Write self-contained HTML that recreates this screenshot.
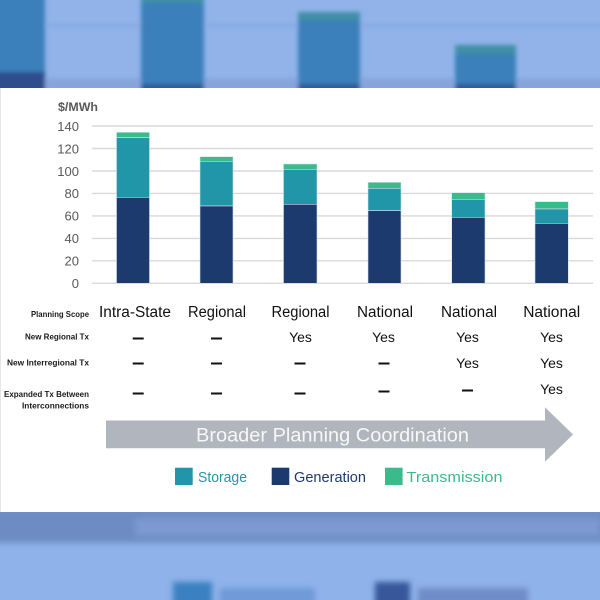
<!DOCTYPE html>
<html><head><meta charset="utf-8">
<style>
html,body{margin:0;padding:0;width:600px;height:600px;overflow:hidden;background:#fff}
svg{display:block}
text{font-family:"Liberation Sans",sans-serif}
</style></head>
<body>
<svg width="600" height="600" viewBox="0 0 600 600" xmlns="http://www.w3.org/2000/svg">
<defs>
<filter id="b1" x="-20%" y="-20%" width="140%" height="140%"><feGaussianBlur stdDeviation="2.2"/></filter>
<filter id="b2" x="-20%" y="-20%" width="140%" height="140%"><feGaussianBlur stdDeviation="3"/></filter>
<clipPath id="ctop"><rect x="0" y="0" width="600" height="88"/></clipPath>
<clipPath id="cbot"><rect x="0" y="512" width="600" height="88"/></clipPath>
</defs>

<!-- top blurred background -->
<g clip-path="url(#ctop)">
<rect x="0" y="0" width="600" height="88" fill="#91b3ea"/>
<g filter="url(#b1)">
<rect x="-10" y="24" width="620" height="3" fill="#87a9e2"/>
<rect x="-10" y="78" width="620" height="14" fill="#86a5dc"/>
<rect x="-10" y="-10" width="55" height="110" fill="#3b80ba"/>
<rect x="-10" y="72" width="55" height="30" fill="#2f4e8c"/>
<rect x="141" y="-10" width="63" height="110" fill="#3b80ba"/>
<rect x="141" y="-10" width="63" height="13" fill="#3f8fa6"/>
<rect x="141" y="84" width="63" height="16" fill="#305a98"/>
<rect x="298" y="12" width="62" height="90" fill="#3b80ba"/>
<rect x="298" y="12" width="62" height="8" fill="#3f8fa6"/>
<rect x="298" y="84" width="62" height="16" fill="#305a98"/>
<rect x="455" y="45" width="61" height="60" fill="#3b80ba"/>
<rect x="455" y="45" width="61" height="9" fill="#3f8fa6"/>
<rect x="455" y="84" width="61" height="16" fill="#305a98"/>
</g>
</g>

<!-- bottom blurred background -->
<g clip-path="url(#cbot)">
<rect x="0" y="512" width="600" height="88" fill="#8fb2ea"/>
<g filter="url(#b2)">
<rect x="-10" y="508" width="620" height="35" fill="#6d8cc4"/>
<rect x="135" y="518" width="465" height="18" fill="#7b99d1"/>
<rect x="173" y="582" width="39" height="30" fill="#3a80c0"/>
<rect x="220" y="588" width="95" height="20" fill="#6f9ad8"/>
<rect x="375" y="582" width="35" height="30" fill="#38569a"/>
<rect x="418" y="588" width="110" height="20" fill="#6f8cc8"/>
</g>
</g>

<!-- white panel -->
<rect x="0" y="88" width="600" height="424" fill="#ffffff"/>
<rect x="0" y="88" width="1" height="424" fill="#e6e6e6"/>

<!-- axis title -->
<text x="58" y="111" font-size="12" font-weight="bold" fill="#595959" textLength="40" lengthAdjust="spacingAndGlyphs">$/MWh</text>

<!-- gridlines -->
<g stroke="#d9d9d9" stroke-width="1.4">
<line x1="92" y1="126" x2="593" y2="126"/>
<line x1="92" y1="148.5" x2="593" y2="148.5"/>
<line x1="92" y1="171" x2="593" y2="171"/>
<line x1="92" y1="193.4" x2="593" y2="193.4"/>
<line x1="92" y1="215.9" x2="593" y2="215.9"/>
<line x1="92" y1="238.4" x2="593" y2="238.4"/>
<line x1="92" y1="260.8" x2="593" y2="260.8"/>
<line x1="92" y1="283.3" x2="593" y2="283.3"/>
</g>

<!-- tick labels -->
<g font-size="13" fill="#595959" text-anchor="end">
<text x="79" y="130.8">140</text>
<text x="79" y="153.3">120</text>
<text x="79" y="175.8">100</text>
<text x="79" y="198.2">80</text>
<text x="79" y="220.7">60</text>
<text x="79" y="243.2">40</text>
<text x="79" y="265.6">20</text>
<text x="79" y="288.1">0</text>
</g>

<!-- bars -->
<g stroke="#cfe3ea" stroke-width="0.6">
<rect x="116.5" y="132.3" width="33" height="5.4" fill="#3bba8c"/>
<rect x="116.5" y="137.7" width="33" height="59.6" fill="#2196a8"/>
<rect x="116.5" y="197.3" width="33" height="86" fill="#1c3a6e"/>

<rect x="200" y="156.7" width="33" height="4.6" fill="#3bba8c"/>
<rect x="200" y="161.3" width="33" height="44.7" fill="#2196a8"/>
<rect x="200" y="206" width="33" height="77.3" fill="#1c3a6e"/>

<rect x="283.5" y="164" width="33.5" height="5.3" fill="#3bba8c"/>
<rect x="283.5" y="169.3" width="33.5" height="35" fill="#2196a8"/>
<rect x="283.5" y="204.3" width="33.5" height="79" fill="#1c3a6e"/>

<rect x="368" y="182.3" width="33" height="6" fill="#3bba8c"/>
<rect x="368" y="188.3" width="33" height="22.4" fill="#2196a8"/>
<rect x="368" y="210.7" width="33" height="72.6" fill="#1c3a6e"/>

<rect x="451.7" y="192.7" width="33.3" height="6.6" fill="#3bba8c"/>
<rect x="451.7" y="199.3" width="33.3" height="18" fill="#2196a8"/>
<rect x="451.7" y="217.3" width="33.3" height="66" fill="#1c3a6e"/>

<rect x="535" y="201.7" width="33.3" height="7.3" fill="#3bba8c"/>
<rect x="535" y="209" width="33.3" height="14.3" fill="#2196a8"/>
<rect x="535" y="223.3" width="33.3" height="60" fill="#1c3a6e"/>
</g>

<!-- table row labels -->
<g font-size="8.5" font-weight="bold" fill="#1a1a1a" text-anchor="end">
<text x="89" y="317" textLength="58" lengthAdjust="spacingAndGlyphs">Planning Scope</text>
<text x="89" y="339.7" textLength="64" lengthAdjust="spacingAndGlyphs">New Regional Tx</text>
<text x="89" y="365.7" textLength="82" lengthAdjust="spacingAndGlyphs">New Interregional Tx</text>
<text x="89" y="397" textLength="85" lengthAdjust="spacingAndGlyphs">Expanded Tx Between</text>
<text x="89" y="408.7" textLength="67" lengthAdjust="spacingAndGlyphs">Interconnections</text>
</g>

<!-- category labels -->
<g font-size="15.5" fill="#111" text-anchor="middle">
<text x="135" y="317" textLength="72" lengthAdjust="spacingAndGlyphs">Intra-State</text>
<text x="217" y="317" textLength="58" lengthAdjust="spacingAndGlyphs">Regional</text>
<text x="300.5" y="317" textLength="58" lengthAdjust="spacingAndGlyphs">Regional</text>
<text x="385" y="317" textLength="56" lengthAdjust="spacingAndGlyphs">National</text>
<text x="469" y="317" textLength="56" lengthAdjust="spacingAndGlyphs">National</text>
<text x="551.7" y="317" textLength="57" lengthAdjust="spacingAndGlyphs">National</text>
</g>

<!-- dashes -->
<g fill="#111">
<rect x="132.7" y="337.5" width="11" height="2"/>
<rect x="211" y="337.5" width="11" height="2"/>
<rect x="132.7" y="362.5" width="11" height="2"/>
<rect x="211" y="362.5" width="11" height="2"/>
<rect x="294.5" y="362.5" width="11" height="2"/>
<rect x="378.5" y="362.5" width="11" height="2"/>
<rect x="132.7" y="392.5" width="11" height="2"/>
<rect x="211" y="392.5" width="11" height="2"/>
<rect x="294.5" y="392.5" width="11" height="2"/>
<rect x="378.5" y="390.5" width="11" height="2"/>
<rect x="462" y="389.5" width="11" height="2"/>
</g>

<!-- Yes values -->
<g font-size="14" fill="#111" text-anchor="middle">
<text x="300.5" y="342">Yes</text>
<text x="383.5" y="342">Yes</text>
<text x="467.5" y="342">Yes</text>
<text x="551.5" y="342">Yes</text>
<text x="467.5" y="368">Yes</text>
<text x="551.5" y="368">Yes</text>
<text x="551.5" y="394">Yes</text>
</g>

<!-- arrow -->
<polygon points="106,420.5 545,420.5 545,407.3 573,434.5 545,461.7 545,448.3 106,448.3" fill="#b1b5bd"/>
<text x="332.5" y="441.5" font-size="19" fill="#f7f7f7" text-anchor="middle" textLength="273" lengthAdjust="spacingAndGlyphs">Broader Planning Coordination</text>

<!-- legend -->
<rect x="175" y="467.7" width="17.7" height="17.3" fill="#2196a8"/>
<text x="198" y="482" font-size="15" fill="#2196a8" textLength="49" lengthAdjust="spacingAndGlyphs">Storage</text>
<rect x="271.7" y="467.7" width="17.6" height="17.3" fill="#1c3a6e"/>
<text x="294" y="482" font-size="15" fill="#1c3a6e" textLength="72" lengthAdjust="spacingAndGlyphs">Generation</text>
<rect x="385" y="467.7" width="17.6" height="17.3" fill="#3bba8c"/>
<text x="406.5" y="482" font-size="15" fill="#3bba8c" textLength="96" lengthAdjust="spacingAndGlyphs">Transmission</text>
</svg>
</body></html>
